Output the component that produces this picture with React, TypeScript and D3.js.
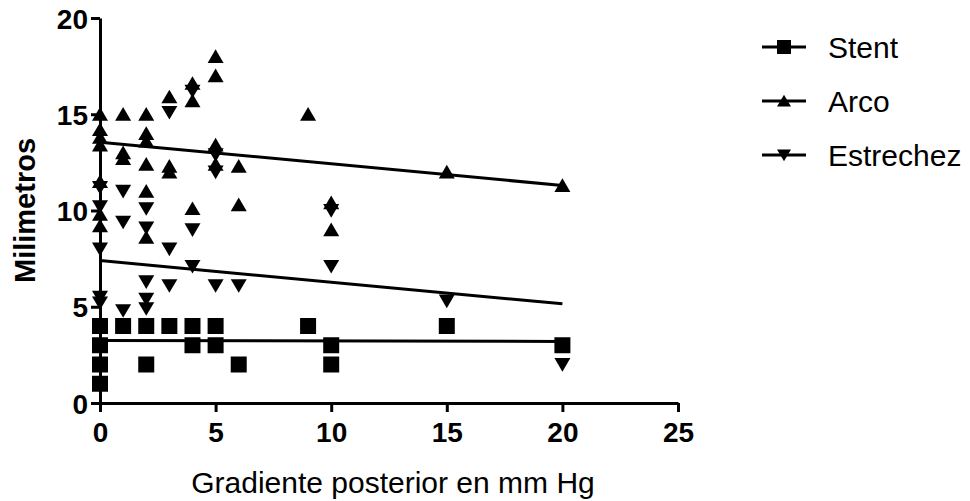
import React, { useEffect, useRef } from 'react';
import * as d3 from 'd3';

// series (x = gradiente, y = milimetros)
const stentX = [0, 0, 0, 0, 1, 2, 2, 3, 4, 4, 5, 5, 6, 9, 10, 10, 15, 20];
const stentY = [4, 3, 2, 1, 4, 4, 2, 4, 4, 3, 4, 3, 2, 4, 3, 2, 4, 3];

const arcoX = [0, 0, 0, 0, 0, 0, 0, 1, 1, 1, 2, 2, 2, 2, 2, 2, 3, 3, 3, 4, 4, 4, 5, 5, 5, 5, 6, 6, 9, 10, 10, 15, 20];
const arcoY = [15, 14.2, 13.8, 13.4, 11.5, 9.8, 9.2, 15, 13, 12.7, 15, 14, 13.6, 12.4, 11, 8.6, 15.9, 12.3, 12, 16.6, 15.7, 10.1, 18, 17, 13.4, 12.4, 12.3, 10.3, 15, 10.4, 9, 12, 11.3];

const estrX = [0, 0, 0, 0, 0, 1, 1, 1, 2, 2, 2, 2, 2, 3, 3, 3, 4, 4, 4, 5, 5, 5, 6, 10, 10, 15, 20];
const estrY = [11.2, 10.2, 8, 5.5, 5.2, 11, 9.4, 4.8, 10.1, 9.1, 6.3, 5.4, 4.9, 15.1, 8, 6.1, 16.2, 9, 7.1, 12.9, 12, 6.1, 6.1, 10, 7.1, 5.3, 2];

// fitted lines, value at x = 0 and at x = 20
const fitX = [0, 20];
const stentFit = [3.25, 3.2];
const arcoFit = [13.55, 11.3];
const estrFit = [7.4, 5.15];

const seriesNames = ['Stent', 'Arco', 'Estrechez'];
const xTicks = [0, 5, 10, 15, 20, 25];
const yTicks = [0, 5, 10, 15, 20];

const W = 970;
const H = 501;
const FONT = '"Liberation Sans", Arial, Helvetica, sans-serif';

const markerPath = (kind: string, s: number) => {
  const h = s / 2;
  if (kind === 'square') return `M${-h},${-h}H${h}V${h}H${-h}Z`;
  if (kind === 'up') return `M0,${-h * 0.9}L${h},${h * 0.8}L${-h},${h * 0.8}Z`;
  return `M0,${h * 0.9}L${h},${-h * 0.8}L${-h},${-h * 0.8}Z`;
};

export default function App() {
  const ref = useRef<SVGSVGElement>(null);

  useEffect(() => {
    const svg = d3.select(ref.current);
    svg.selectAll('*').remove();

    const x = d3.scaleLinear().domain([0, 25]).range([100, 678]);
    const y = d3.scaleLinear().domain([0, 20]).range([403, 18]);

    // axes
    const ax = svg.append('g').attr('transform', `translate(0,${y(0)})`)
      .call(d3.axisBottom(x).tickValues(xTicks).tickSize(9).tickPadding(10).tickSizeOuter(0));
    const ay = svg.append('g').attr('transform', `translate(${x(0)},0)`)
      .call(d3.axisLeft(y).tickValues(yTicks).tickSize(9).tickPadding(3).tickSizeOuter(0));
    [ax, ay].forEach(g => {
      g.select('.domain').attr('stroke', '#000').attr('stroke-width', 3);
      g.selectAll('.tick line').attr('stroke', '#000').attr('stroke-width', 3);
      g.selectAll('.tick text')
        .attr('fill', '#000')
        .style('font-family', FONT)
        .style('font-weight', 'bold')
        .style('font-size', '28px');
    });
    ay.selectAll('.tick text').attr('dy', '0.36em');

    const groups = [
      { xs: stentX, ys: stentY, fit: stentFit, kind: 'square', size: 16 },
      { xs: arcoX, ys: arcoY, fit: arcoFit, kind: 'up', size: 16 },
      { xs: estrX, ys: estrY, fit: estrFit, kind: 'down', size: 16 },
    ];

    const line = d3.line<number>().x((_, i) => x(fitX[i])).y(d => y(d));

    groups.forEach(gr => {
      svg.append('g')
        .selectAll('path')
        .data(gr.ys)
        .join('path')
        .attr('transform', (d, i) => `translate(${x(gr.xs[i])},${y(d)})`)
        .attr('d', markerPath(gr.kind, gr.size))
        .attr('fill', '#000');
    });

    groups.forEach(gr => {
      svg.append('path')
        .datum(gr.fit)
        .attr('d', line)
        .attr('fill', 'none')
        .attr('stroke', '#000')
        .attr('stroke-width', 3);
    });

    // legend
    const legY = d3.scalePoint<string>().domain(seriesNames).range([47, 155]);
    const leg = svg.append('g');
    seriesNames.forEach((name, i) => {
      const yy = legY(name) as number;
      leg.append('line')
        .attr('x1', 762).attr('x2', 806)
        .attr('y1', yy).attr('y2', yy)
        .attr('stroke', '#000').attr('stroke-width', 3);
      leg.append('path')
        .attr('transform', `translate(784,${yy})`)
        .attr('d', markerPath(groups[i].kind, 14))
        .attr('fill', '#000');
      leg.append('text')
        .attr('x', 828).attr('y', yy)
        .attr('dy', '0.36em')
        .style('font-family', FONT)
        .style('font-size', '30px')
        .text(name);
    });

    // axis titles
    svg.append('text')
      .attr('x', 393).attr('y', 493)
      .attr('text-anchor', 'middle')
      .style('font-family', FONT)
      .style('font-size', '30px')
      .text('Gradiente posterior en mm Hg');

    svg.append('text')
      .attr('transform', `translate(35,${y(10)}) rotate(-90)`)
      .attr('text-anchor', 'middle')
      .style('font-family', FONT)
      .style('font-weight', 'bold')
      .style('font-size', '29px')
      .text('Milimetros');
  }, []);

  return (
    <svg
      ref={ref}
      width={W}
      height={H}
      style={{ position: 'absolute', left: 0, top: 0, background: '#fff' }}
    />
  );
}
